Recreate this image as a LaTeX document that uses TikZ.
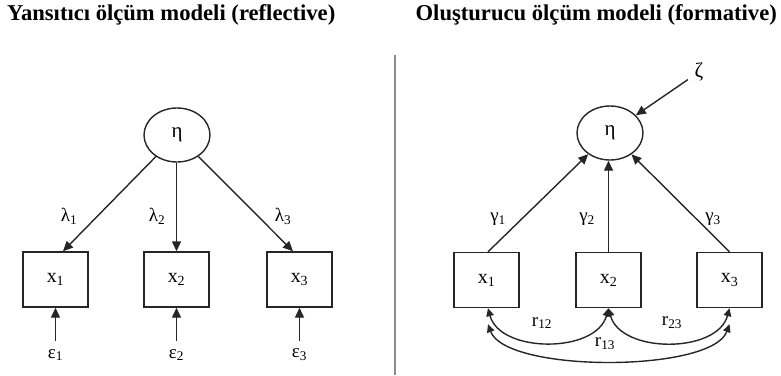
\documentclass[tikz,border=0pt]{standalone}
\usepackage{fontspec}
\setmainfont{Liberation Serif}
\usetikzlibrary{shapes.geometric,arrows.meta}
\newcommand\sbs[1]{\textsubscript{#1}}
\begin{document}
\begin{tikzpicture}[x=1bp,y=-1bp,
  line/.style={draw=black!85,line width=1.4bp},
  arr/.style={line,-{Triangle[length=10bp,width=9bp]}},
  darr/.style={line,{Triangle[length=8bp,width=7.5bp]}-{Triangle[length=8bp,width=7.5bp]}},
  latent/.style={ellipse,draw=black!85,line width=1.4bp,minimum width=66bp,minimum height=54bp,inner sep=0pt,font=\fontsize{21}{23}\selectfont},
  obs/.style={rectangle,draw=black!85,line width=1.4bp,minimum width=65bp,minimum height=55bp,inner sep=0pt,font=\fontsize{20}{22}\selectfont},
  lbl/.style={inner sep=0pt,font=\fontsize{19}{21}\selectfont},
  ttl/.style={inner sep=0pt,font=\bfseries\fontsize{22.7}{26}\selectfont}]
\useasboundingbox (0,0) rectangle (781,375);

% titles
\node[ttl,anchor=west] (t1) at (7,15) {Yansıtıcı ölçüm modeli (reflective)};
\node[ttl,anchor=east] (t2) at (777,15) {Oluşturucu ölçüm modeli (formative)};

% divider
\draw[draw=black!45,line width=2.5bp] (395,55) -- (395,375);

% ---------- reflective ----------
\node[latent] (etaL) at (177,135) {η};
\node[obs] (x1L) at (55.5,279.5) {x\sbs{1}};
\node[obs] (x2L) at (176.5,279.5) {x\sbs{2}};
\node[obs] (x3L) at (299.5,279.5) {x\sbs{3}};

\draw[arr] (etaL) -- ([xshift=7.5bp]x1L.north);
\draw[arr] (etaL.south -| x2L.north) -- (x2L.north);
\draw[arr] (etaL) -- ([xshift=-6.5bp]x3L.north);

\node[lbl] (l1) at (69,216) {λ\sbs{1}};
\node[lbl] (l2) at (157,216) {λ\sbs{2}};
\node[lbl] (l3) at (283,216) {λ\sbs{3}};

\node[lbl] (e1) at (55.5,355) {ε\sbs{1}};
\node[lbl] (e2) at (176.5,355) {ε\sbs{2}};
\node[lbl] (e3) at (299.5,355) {ε\sbs{3}};
\draw[arr,shorten <=8bp] (e1) -- (x1L.south);
\draw[arr,shorten <=8bp] (e2) -- (x2L.south);
\draw[arr,shorten <=8bp] (e3) -- (x3L.south);

% ---------- formative ----------
\node[latent] (etaR) at (610,133) {η};
\node[obs] (x1R) at (486.5,280) {x\sbs{1}};
\node[obs] (x2R) at (608.5,280) {x\sbs{2}};
\node[obs] (x3R) at (729.5,280) {x\sbs{3}};

\draw[arr] ([xshift=1.5bp]x1R.north) -- (etaR);
\draw[arr] (x2R.north) -- (x2R.north |- etaR.south);
\draw[arr] (x3R.north) -- (etaR);

\node[lbl] (g1) at (498,219) {γ\sbs{1}};
\node[lbl] (g2) at (587,219) {γ\sbs{2}};
\node[lbl] (g3) at (713,219) {γ\sbs{3}};

\node[lbl,font=\fontsize{21}{23}\selectfont] (zeta) at (699,72) {ζ};
\draw[arr,shorten <=8bp] (zeta) -- (etaR);

% correlations
\coordinate (c1) at ([xshift=1.5bp,yshift=-16bp]x1R.south);
\coordinate (c3) at ([yshift=-16bp]x3R.south);
\draw[darr] ([xshift=1.5bp]x1R.south) to[out=-75,in=-105] (x2R.south);
\draw[darr] (x2R.south) to[out=-75,in=-105] (x3R.south);
\draw[darr] (c1) to[out=-70,in=-110,looseness=0.55] (c3);

\node[lbl] (r12) at (542,323) {r\sbs{12}};
\node[lbl] (r23) at (672,323) {r\sbs{23}};
\node[lbl] (r13) at (605,344) {r\sbs{13}};
\end{tikzpicture}
\end{document}
